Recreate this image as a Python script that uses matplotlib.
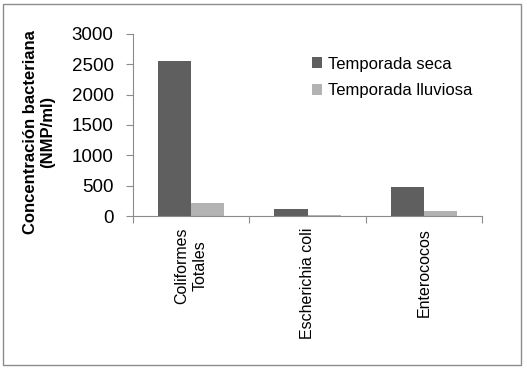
import matplotlib.pyplot as plt
import numpy as np
from matplotlib.patches import Rectangle

plt.rcParams['font.family'] = ['Liberation Sans', 'DejaVu Sans']

categories = ["Coliformes\nTotales", "Escherichia coli", "Enterococos"]
seca = [2550, 120, 480]
lluviosa = [210, 10, 85]
series_names = ["Temporada seca", "Temporada lluviosa"]

fig = plt.figure(figsize=(5.27, 3.69), dpi=100)
fig.patches.append(Rectangle((0.006, 0.01), 0.982, 0.98, transform=fig.transFigure,
                             fill=False, edgecolor="#8c8c8c", linewidth=1))
ax = fig.add_axes([0.2524, 0.4146, 0.6622, 0.4933])

x = np.arange(len(categories))
w = 0.285
ax.bar(x - w / 2, seca, w, color="#5f5f5f", label=series_names[0])
ax.bar(x + w / 2, lluviosa, w, color="#b3b3b3", label=series_names[1])

ax.set_xlim(-0.5, 2.5)
ax.set_ylim(0, 3000)
ax.set_yticks(range(0, 3001, 500))
ax.tick_params(axis="y", labelsize=13.5, length=5, color="#8c8c8c", direction="out", pad=9)
ax.set_xticks([-0.5, 0.5, 1.5, 2.5])
ax.set_xticklabels([])
ax.tick_params(axis="x", length=5, color="#8c8c8c", direction="out")
for i, c in enumerate(categories):
    ax.annotate(c, xy=(i, 0), xycoords=("data", "axes fraction"), xytext=(0, -8.5),
                textcoords="offset points", rotation=90, ha="center", va="top",
                fontsize=11.5, multialignment="center", linespacing=1.3)

for s in ["top", "right"]:
    ax.spines[s].set_visible(False)
for s in ["left", "bottom"]:
    ax.spines[s].set_color("#8c8c8c")

ax.set_ylabel("Concentración bacteriana\n(NMP/ml)", fontsize=12, fontweight="bold")
ax.yaxis.set_label_coords(-0.222, 0.46)

ax.legend(loc="upper left", bbox_to_anchor=(0.48, 0.94), frameon=False, fontsize=12,
          handlelength=0.6, handleheight=0.6, handletextpad=0.35, labelspacing=0.7,
          borderpad=0.2)

fig.savefig("out.png", dpi=100)
